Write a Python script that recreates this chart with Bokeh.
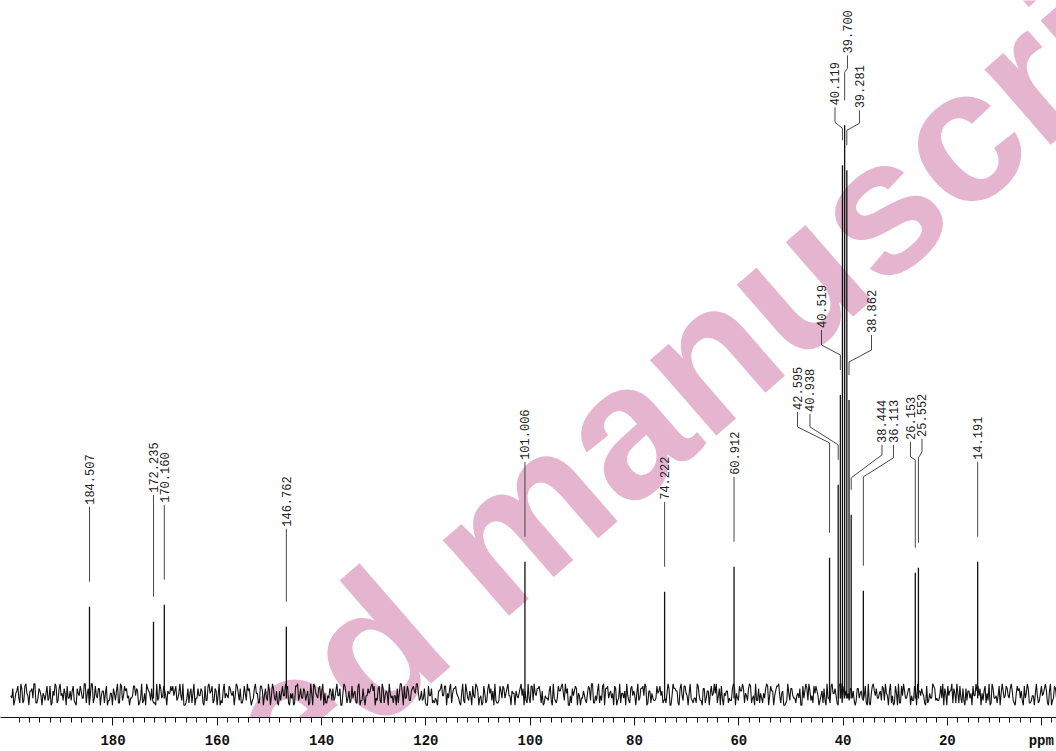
from math import pi
from bokeh.plotting import figure
from bokeh.models import Range1d, FixedTicker, Label, ColumnDataSource
from bokeh.core.properties import value
from bokeh.embed import file_html
from bokeh.resources import INLINE

# ---------------- data ----------------
peak_ppm = [184.507, 172.235, 170.160, 146.762, 101.006, 74.222, 60.912,
            42.595, 40.938, 40.519, 40.119, 39.700, 39.281, 38.862, 38.444,
            36.113, 26.153, 25.552, 14.191]
peak_height = [88, 73, 90, 68, 133, 103, 128,
               137, 210, 300, 530, 570, 525, 295, 180,
               104, 122, 127, 133]

major_ticks = [180, 160, 140, 120, 100, 80, 60, 40, 20, 2]
tick_labels = {2: "ppm"}
minor_ticks = list(range(0, 200, 2))

# baseline noise, read as digit levels (0..9) along the spectrum (two interleaved passes)
noise_digits_a = (
    "4726391850" "6391745283" "0691742583" "2817463950" "9183746502"
    "5729184630" "3846192075" "7102938465" "6483920175" "1937460285"
    "8264019537" "4095718263" "2751864390" "9360284715" "5182736409"
    "0847295136" "7394058162" "3619270458" "6028174593" "1475903826"
    "8592631047" "2306948571" "7841529360" "4963081752" "0218375946"
    "5637402918" "9475613280" "3186925047" "6750341829" "1294807365"
    "8031569274" "4527890613" "2864135709" "7609284531" "3942716085"
    "5178046329" "0386752914" "9213578460" "6845019273" "1570392648"
    "8426703195" "4091865732" "2753419086" "7368250941" "5914637028"
    "0645182397" "3289704615" "9137026584" "6402859173" "1856473920"
    "8760391245" "4285916037"
)
noise_digits_b = (
    "3058172946" "7913604528" "1482957036" "6205839174" "9347061825"
    "0561928743" "4870315962" "2193746058" "8625490317" "5034718296"
    "1709263485" "6482135970" "3951807264" "7216549803" "0894372615"
    "9538601472" "2647095318" "5180234769" "8372916054" "4019583627"
    "6953270841" "1267480395" "7530916248" "3804152976" "9126837405"
    "0459761382" "5781043629" "2368597014" "8043625791" "4612978530"
    "7295304186" "0937481652" "3586219047" "6174850923" "1820736549"
    "9403561278" "5269147830" "2751390864" "8916025743" "4308679215"
    "6041293857" "1895432760" "7362801594" "3527946108" "0189357426"
    "9674015382" "2430586971" "5812763049" "8756120934" "4093847615"
    "6328571409" "1547609283"
)
noise_start_ppm = 199.6
noise_step_ppm = 0.193

# ---------------- layout of peak labels ----------------
label_ppm = [184.507, 172.235, 170.160, 146.762, 101.006, 74.222, 60.912,
             48.74, 46.35, 44.14, 41.55, 39.16, 36.86, 34.55, 32.54,
             30.34, 27.08, 24.87, 14.191]
label_base = [190, 202, 192, 168, 235, 195, 220,
              285, 283, 367, 590, 642, 587, 362, 252,
              252, 255, 258, 235]
knee_upper = [None, None, None, None, None, None, None,
              268, 268, 350, 573, 627, 572, 345, 240,
              237, 238, 243, None]
knee_lower = [None, None, None, None, None, None, None,
              252, 250, 340, 567, 623, 565, 333, 217,
              218, 235, 237, None]
LEADER_GAP = 25

# ---------------- figure ----------------
p = figure(width=1056, height=751,
           x_range=Range1d(201.572, -0.925), y_range=Range1d(-23, 695),
           output_backend="svg", toolbar_location=None,
           y_axis_location=None,
           min_border_left=0, min_border_right=0, min_border_top=0,
           min_border_bottom=33, outline_line_color=None,
           background_fill_color="white", border_fill_color="white")
p.xgrid.visible = False
p.ygrid.visible = False

ax = p.xaxis[0]
ax.ticker = FixedTicker(ticks=major_ticks, minor_ticks=minor_ticks)
ax.major_label_overrides = tick_labels
ax.major_tick_out = 8
ax.major_tick_in = 0
ax.minor_tick_out = 5
ax.minor_tick_in = 0
ax.axis_line_color = "#111111"
ax.major_tick_line_color = "#111111"
ax.minor_tick_line_color = "#111111"
ax.major_label_text_font = "Liberation Mono"
ax.major_label_text_font_size = "14px"
ax.major_label_text_font_style = "bold"
ax.major_label_text_color = "#111111"
ax.major_label_standoff = 7

# watermark (drawn beneath the spectrum)
wm_color = "#E5B4CE"
p.add_layout(Label(x=114.3, y=120, text="manuscript", angle=41, angle_units="deg",
                   text_align="left", text_baseline="alphabetic",
                   text_font="Liberation Sans", text_font_style="bold",
                   text_font_size="190px", text_color=wm_color, level="underlay"))
p.add_layout(Label(x=121.8, y=86, text="Accepted", angle=41, angle_units="deg",
                   text_align="right", text_baseline="alphabetic",
                   text_font="Liberation Sans", text_font_style="bold",
                   text_font_size="190px", text_color=wm_color, level="underlay"))

# noise baseline
levels = []
for a, b in zip(noise_digits_a, noise_digits_b):
    levels.extend([int(a), int(b)])
nx = [noise_start_ppm - i * noise_step_ppm for i in range(len(levels))]
ny = [(d - 4.5) * 2.4 for d in levels]
p.line(nx, ny, line_color="#111111", line_width=1.1)

# peaks
src = ColumnDataSource(dict(ppm=peak_ppm, h=peak_height,
                            label=[f"{v:.3f}" for v in peak_ppm],
                            lx=label_ppm, lb=label_base))
p.segment(x0="ppm", y0=-4, x1="ppm", y1="h", source=src,
          line_color="#111111", line_width=1.3)

# leaders
xs, ys = [], []
for pk, h, lx, lb, k1, k2 in zip(peak_ppm, peak_height, label_ppm, label_base,
                                 knee_upper, knee_lower):
    end = h + LEADER_GAP
    if k1 is None:
        xs.append([lx, pk])
        ys.append([lb - 2, end])
    else:
        xs.append([lx, lx, pk, pk])
        ys.append([lb - 2, k1, k2, end])
p.multi_line(xs, ys, line_color="#333333", line_width=0.9)

# peak labels
p.text(x="lx", y="lb", text="label", source=src, angle=pi / 2,
       text_align="left", text_baseline="middle",
       text_font=value("Liberation Mono"), text_font_size="12px",
       text_color="#222222")

open("out.html", "w").write(file_html(p, INLINE))
